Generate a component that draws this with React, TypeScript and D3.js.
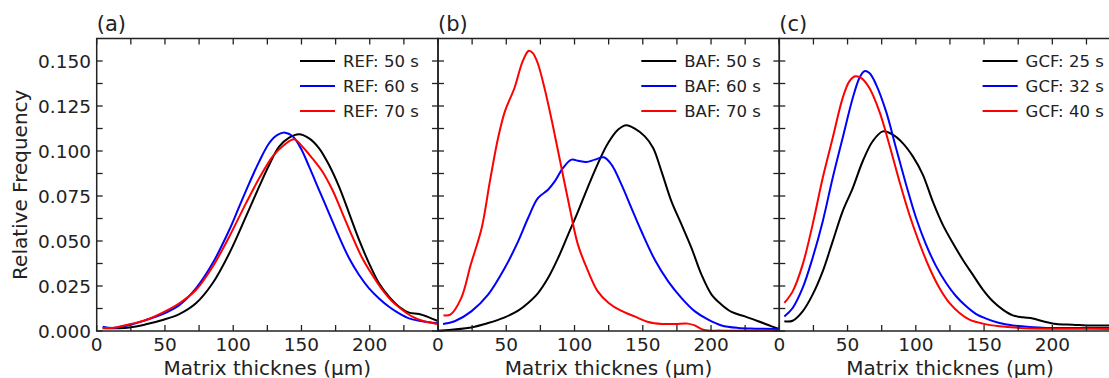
import React from 'react';
import * as d3 from 'd3';

// ---------- data (x: matrix thickness in µm, y: relative frequency) ----------
const REF50_X = [4.4, 23.9, 36.1, 48.3, 60.5, 72.7, 84.9, 97.1, 109.3, 119, 126.3, 133.6, 141, 148.3, 155.6, 162.9, 170.2, 177.5, 184.9, 192.2, 199.5, 206.8, 214.1, 221.5, 228.8, 236.1, 243.4, 249.5];
const REF50_Y = [0.0015, 0.002, 0.0037, 0.0061, 0.0094, 0.0154, 0.0265, 0.0431, 0.0635, 0.0802, 0.0922, 0.1024, 0.1074, 0.1093, 0.107, 0.1015, 0.0922, 0.0802, 0.0654, 0.0506, 0.0376, 0.0265, 0.0191, 0.0135, 0.0102, 0.0094, 0.0076, 0.0057];
const REF60_X = [4.4, 11.7, 23.9, 36.1, 48.3, 60.5, 72.7, 84.9, 97.1, 104.4, 111.7, 119, 126.3, 132.4, 138, 143.4, 149.5, 155.6, 162.9, 170.2, 177.5, 184.9, 192.2, 199.5, 206.8, 214.1, 221.5, 228.8, 236.1, 243.4, 249.5];
const REF60_Y = [0.0024, 0.0017, 0.0033, 0.0061, 0.0094, 0.0144, 0.0237, 0.0376, 0.0561, 0.0691, 0.082, 0.0941, 0.1043, 0.1089, 0.1102, 0.1083, 0.1015, 0.0913, 0.0783, 0.0654, 0.0524, 0.0404, 0.0311, 0.0237, 0.0181, 0.0135, 0.0098, 0.007, 0.0057, 0.0048, 0.0043];
const REF70_X = [4.4, 14.1, 23.9, 36.1, 48.3, 60.5, 72.7, 84.9, 97.1, 109.3, 119, 128.8, 137.3, 144.6, 150.7, 158, 165.4, 172.7, 180, 187.3, 194.6, 201.9, 209.3, 216.6, 223.9, 231.2, 238.5, 249.5];
const REF70_Y = [0.0017, 0.002, 0.0037, 0.0061, 0.0102, 0.0154, 0.0228, 0.0357, 0.0524, 0.0709, 0.0848, 0.0969, 0.1033, 0.1065, 0.1024, 0.0959, 0.0885, 0.0783, 0.0654, 0.0524, 0.0404, 0.0311, 0.0228, 0.0163, 0.0117, 0.008, 0.0057, 0.0039];

const BAF50_X = [0, 24.4, 36.7, 48.9, 58.7, 66, 73.3, 80.6, 88, 95.3, 102.6, 110, 117.3, 124.6, 132, 138, 144.2, 151.5, 157.6, 163.7, 171, 178.4, 185.7, 193, 200.4, 207.7, 215, 224.8, 234.6, 244.4, 249.3];
const BAF50_Y = [0.0002, 0.002, 0.0044, 0.0076, 0.0113, 0.0156, 0.0211, 0.0294, 0.0406, 0.0535, 0.0665, 0.0804, 0.0933, 0.1044, 0.1119, 0.1143, 0.1124, 0.1081, 0.1017, 0.0887, 0.072, 0.0591, 0.0461, 0.0313, 0.0202, 0.0146, 0.0106, 0.0081, 0.0054, 0.0026, 0.0013];
const BAF60_X = [3.7, 12.2, 24.4, 36.7, 48.9, 58.7, 66, 73.3, 80.6, 85.5, 91.6, 97.8, 102.6, 108.7, 114.9, 121.5, 127.1, 134.4, 141.7, 149, 158.8, 168.6, 178.4, 188.2, 197.9, 207.7, 219.9, 232.2, 249.3];
const BAF60_Y = [0.0039, 0.0054, 0.0109, 0.0202, 0.035, 0.0498, 0.0628, 0.0739, 0.0785, 0.0831, 0.0906, 0.0952, 0.0946, 0.0939, 0.0952, 0.0965, 0.0924, 0.0813, 0.0683, 0.0554, 0.0396, 0.0276, 0.0183, 0.0109, 0.0063, 0.0031, 0.0017, 0.0013, 0.0011];
const BAF70_X = [4, 9, 17, 24, 32, 38, 44, 49, 56, 62, 66.5, 69.5, 73, 78, 84, 90, 96.5, 102.5, 110, 117, 125, 134, 144, 154, 164, 174, 183, 188, 195, 208, 249];
const BAF70_Y = [0.0087, 0.0091, 0.0183, 0.0369, 0.0572, 0.0831, 0.1072, 0.122, 0.135, 0.1498, 0.1557, 0.1544, 0.1489, 0.135, 0.1146, 0.0924, 0.0683, 0.048, 0.0331, 0.022, 0.0156, 0.0113, 0.0081, 0.005, 0.0039, 0.0039, 0.0041, 0.0031, 0.0006, 0.0002, 0.0002];

const GCF25_X = [3.7, 9.8, 17.1, 24.4, 31.8, 39.1, 46.4, 53.8, 61.1, 68.4, 75.8, 83.1, 90.4, 97.8, 105.1, 112.4, 119.7, 127.1, 134.4, 141.7, 149.1, 156.4, 163.7, 171.1, 178.4, 185.7, 193.1, 202.8, 215, 227.3, 237, 241.9];
const GCF25_Y = [0.0054, 0.0057, 0.0109, 0.0202, 0.0331, 0.0498, 0.0665, 0.0794, 0.0943, 0.1054, 0.1109, 0.1091, 0.1044, 0.097, 0.0869, 0.072, 0.0591, 0.0489, 0.0396, 0.0313, 0.023, 0.0165, 0.0119, 0.0087, 0.0076, 0.0069, 0.0054, 0.0039, 0.0035, 0.003, 0.0031, 0.0031];
const GCF32_X = [3.7, 9.8, 17.1, 24.4, 31.8, 39.1, 46.4, 53.8, 58.7, 62.3, 66, 70.9, 78.2, 85.5, 92.9, 100.2, 107.5, 114.9, 122.2, 129.5, 136.9, 144.2, 151.5, 161.3, 171.1, 183.3, 195.5, 219.9, 241.9];
const GCF32_Y = [0.0081, 0.0128, 0.0239, 0.0406, 0.0609, 0.085, 0.1072, 0.1294, 0.1406, 0.1443, 0.1433, 0.1369, 0.122, 0.1017, 0.0813, 0.0628, 0.048, 0.0359, 0.0267, 0.0193, 0.0137, 0.0094, 0.0069, 0.0044, 0.0031, 0.0022, 0.0017, 0.0017, 0.0017];
const GCF40_X = [3.7, 9.8, 17.1, 24.4, 31.8, 39.1, 46.4, 51.3, 55.7, 59.9, 66, 73.3, 80.6, 88, 95.3, 102.6, 110, 117.3, 124.6, 132, 139.3, 149.1, 161.3, 176, 195.5, 219.9, 241.9];
const GCF40_Y = [0.0156, 0.022, 0.0369, 0.0591, 0.085, 0.1072, 0.1294, 0.1387, 0.1415, 0.1406, 0.135, 0.122, 0.1035, 0.0831, 0.0646, 0.0489, 0.035, 0.0239, 0.0156, 0.01, 0.0063, 0.0041, 0.0026, 0.0017, 0.0013, 0.0013, 0.0011];

const REF_LABELS = ['REF: 50 s', 'REF: 60 s', 'REF: 70 s'];
const BAF_LABELS = ['BAF: 50 s', 'BAF: 60 s', 'BAF: 70 s'];
const GCF_LABELS = ['GCF: 25 s', 'GCF: 32 s', 'GCF: 40 s'];
const PANEL_LABELS = ['(a)', '(b)', '(c)'];

const X_LABELED_TICKS = [0, 50, 100, 150, 200];
const X_ALL_TICKS = [0, 25, 50, 75, 100, 125, 150, 175, 200, 225, 250];
const Y_LABELED_TICKS = [0, 0.025, 0.05, 0.075, 0.1, 0.125, 0.15];
const Y_ALL_TICKS = [0, 0.0125, 0.025, 0.0375, 0.05, 0.0625, 0.075, 0.0875, 0.1, 0.1125, 0.125, 0.1375, 0.15];

const COLORS = ['#000000', '#0000ff', '#ff0000'];

const zip = (xs: number[], ys: number[]) => xs.map((x, i) => [x, ys[i]] as [number, number]);

const PANELS = [
  { label: PANEL_LABELS[0], legend: REF_LABELS, series: [zip(REF50_X, REF50_Y), zip(REF60_X, REF60_Y), zip(REF70_X, REF70_Y)] },
  { label: PANEL_LABELS[1], legend: BAF_LABELS, series: [zip(BAF50_X, BAF50_Y), zip(BAF60_X, BAF60_Y), zip(BAF70_X, BAF70_Y)] },
  { label: PANEL_LABELS[2], legend: GCF_LABELS, series: [zip(GCF25_X, GCF25_Y), zip(GCF32_X, GCF32_Y), zip(GCF40_X, GCF40_Y)] },
];

const W = 1109;
const H = 378;
const LEFT0 = 96.7;
const PW = 341.3;
const TOP = 38.5;
const BOTTOM = 331;
const FONT = 'DejaVu Sans, sans-serif';

export default function App() {
  const y = d3.scaleLinear().domain([0, 0.1625]).range([BOTTOM, TOP]);
  return (
    <svg width={W} height={H} style={{ position: 'absolute', left: 0, top: 0, background: '#fff' }} fontFamily={FONT}>
      <rect x={0} y={0} width={W} height={H} fill="#fff" />
      {PANELS.map((p, pi) => {
        const left = LEFT0 + pi * PW;
        const right = left + PW;
        const x = d3.scaleLinear().domain([0, 250]).range([left, right]);
        const line = d3.line<[number, number]>()
          .x(d => x(d[0]))
          .y(d => y(d[1]))
          .curve(d3.curveCatmullRom.alpha(0.5));
        return (
          <g key={pi}>
            {p.series.map((s, si) => (
              <path key={si} d={line(s) || ''} fill="none" stroke={COLORS[si]} strokeWidth={2} strokeLinejoin="round" />
            ))}
            {X_ALL_TICKS.map(t => (
              <g key={'xt' + t} stroke="#222" strokeWidth={1.3}>
                <line x1={x(t)} x2={x(t)} y1={BOTTOM} y2={BOTTOM - 6} />
                <line x1={x(t)} x2={x(t)} y1={TOP} y2={TOP + 6} />
              </g>
            ))}
            {Y_ALL_TICKS.map(t => (
              <g key={'yt' + t} stroke="#222" strokeWidth={1.3}>
                <line x1={left} x2={left + 6} y1={y(t)} y2={y(t)} />
                <line x1={right} x2={right - 6} y1={y(t)} y2={y(t)} />
              </g>
            ))}
            <rect x={left} y={TOP} width={PW} height={BOTTOM - TOP} fill="none" stroke="#222" strokeWidth={1.5} />
            {X_LABELED_TICKS.map(t => (
              <text key={'xl' + t} x={x(t)} y={351} fontSize={18.5} textAnchor="middle" fill="#222">{t}</text>
            ))}
            <text x={(left + right) / 2} y={374.5} fontSize={20} textAnchor="middle" fill="#222">Matrix thicknes (µm)</text>
            <text x={left} y={31} fontSize={21} fill="#222">{p.label}</text>
            {p.legend.map((lab, li) => {
              const ly = 61 + li * 25;
              const lx = right - 138;
              return (
                <g key={'lg' + li}>
                  <line x1={lx} x2={lx + 35} y1={ly} y2={ly} stroke={COLORS[li]} strokeWidth={2} />
                  <text x={lx + 43} y={ly + 6} fontSize={16.5} fill="#222">{lab}</text>
                </g>
              );
            })}
          </g>
        );
      })}
      {Y_LABELED_TICKS.map(t => (
        <text key={'yl' + t} x={91} y={y(t) + 6.7} fontSize={18.5} textAnchor="end" fill="#222">{t.toFixed(3)}</text>
      ))}
      <text transform={`translate(26.5, ${(TOP + BOTTOM) / 2}) rotate(-90)`} fontSize={20} textAnchor="middle" fill="#222">Relative Frequency</text>
    </svg>
  );
}
